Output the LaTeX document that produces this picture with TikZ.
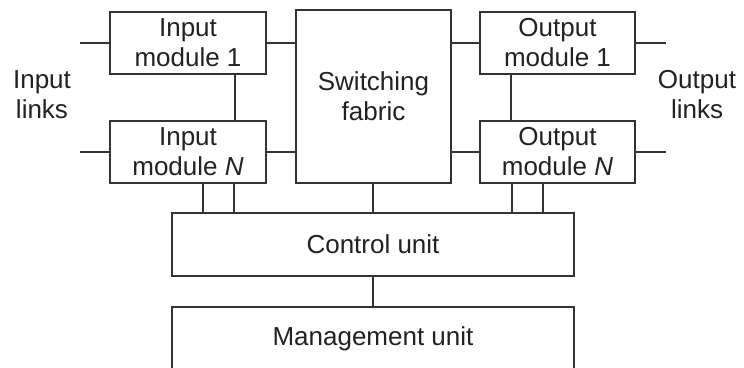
\documentclass[tikz,border=0pt]{standalone}
\usepackage{fontspec}
\setmainfont{Liberation Sans}
\definecolor{ink}{HTML}{333333}
\definecolor{txt}{HTML}{222222}
\begin{document}
\begin{tikzpicture}[x=1pt,y=-1pt,
  blk/.style={draw=ink,line width=1.5pt,rectangle,inner sep=0pt,
    align=center,text=txt,font=\fontsize{26}{30}\selectfont},
  wire/.style={draw=ink,line width=1.5pt},
  lbl/.style={align=center,text=txt,inner sep=0pt,font=\fontsize{26}{30}\selectfont}]
\clip (0,0) rectangle (744,367);
\fill[white] (0,0) rectangle (744,367);

% modules and fabric
\node[blk,minimum width=156,minimum height=62] (in1) at (188,43) {Input\\module 1};
\node[blk,minimum width=156,minimum height=62] (inN) at (188,152) {Input\\module \textit{N}};
\node[blk,minimum width=155,minimum height=173] (fab) at (373.5,96.5) {Switching\\fabric};
\node[blk,minimum width=155,minimum height=62] (out1) at (557.5,43) {Output\\module 1};
\node[blk,minimum width=155,minimum height=62] (outN) at (557.5,152) {Output\\module \textit{N}};
\node[blk,minimum width=402,minimum height=63] (ctrl) at (373,244.5) {Control unit};
\node[blk,minimum width=402,minimum height=63] (mgmt) at (373,338.5) {Management unit};

% side labels
\node[lbl] (inl) at (42,95) {Input\\links};
\node[lbl] (outl) at (697,95) {Output\\links};

% link stubs
\coordinate (a1) at (80,43);
\coordinate (aN) at (80,152);
\coordinate (b1) at (666,43);
\coordinate (bN) at (666,152);
\draw[wire] (a1) -- (in1.west);
\draw[wire] (aN) -- (inN.west);
\draw[wire] (out1.east) -- (b1);
\draw[wire] (outN.east) -- (bN);

% modules to fabric
\draw[wire] (in1.east) -- (in1.east -| fab.west);
\draw[wire] (inN.east) -- (inN.east -| fab.west);
\draw[wire] (out1.west) -- (out1.west -| fab.east);
\draw[wire] (outN.west) -- (outN.west -| fab.east);

% module chains
\draw[wire] ([xshift=47]in1.south) -- ([xshift=47]inN.north);
\draw[wire] ([xshift=-46.5]out1.south) -- ([xshift=-46.5]outN.north);

% control connections
\draw[wire] ([xshift=15]inN.south) -- ([xshift=15]inN.south |- ctrl.north);
\draw[wire] ([xshift=46]inN.south) -- ([xshift=46]inN.south |- ctrl.north);
\draw[wire] ([xshift=-45.5]outN.south) -- ([xshift=-45.5]outN.south |- ctrl.north);
\draw[wire] ([xshift=-14.5]outN.south) -- ([xshift=-14.5]outN.south |- ctrl.north);
\draw[wire] (ctrl.north) -- (ctrl.north |- fab.south);
\draw[wire] (ctrl.south) -- (mgmt.north);
\end{tikzpicture}
\end{document}
